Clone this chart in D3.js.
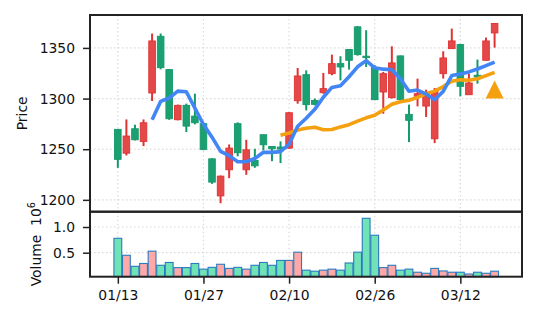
<!DOCTYPE html>
<html>
<head>
<meta charset="utf-8">
<script src="https://cdn.jsdelivr.net/npm/d3@7"></script>
<style>
body { margin: 0; background: #fff; }
svg { display: block; font-family: "DejaVu Sans", sans-serif; }
</style>
</head>
<body>
<div id="chart"></div>
<script>
// ---------- Data ----------
const opens = [1269.6, 1246.1, 1270.2, 1257.7, 1305.5, 1361.5, 1328.6, 1279.1, 1293.3, 1282.7,
    1275.2, 1240.5, 1203.9, 1229.7, 1275.2, 1229.7, 1238.9, 1264.3, 1252.7, 1252.1,
    1251.1, 1297.9, 1323.6, 1298.2, 1305.8, 1324.6, 1334.5, 1348.4, 1370.8, 1341.8,
    1330.5, 1306.5, 1300.9, 1342.1, 1284.4, 1302.2, 1292.6, 1260.3, 1324.6, 1349.3,
    1353.3, 1303.8, 1323.0, 1337.8, 1364.8];
const highs = [1270.0, 1279.4, 1274.2, 1279.4, 1364.2, 1364.2, 1329.0, 1294.0, 1295.0, 1304.8,
    1276.0, 1241.0, 1224.0, 1254.7, 1276.5, 1259.3, 1250.4, 1264.5, 1253.0, 1257.7,
    1286.5, 1330.2, 1327.9, 1300.0, 1325.3, 1343.4, 1341.8, 1349.0, 1371.5, 1367.5,
    1333.0, 1326.3, 1351.6, 1342.5, 1294.0, 1319.7, 1308.8, 1310.4, 1346.7, 1369.1,
    1354.0, 1324.6, 1338.5, 1360.2, 1374.5];
const lows = [1231.6, 1243.8, 1258.7, 1253.1, 1297.6, 1328.9, 1279.0, 1278.5, 1266.9, 1274.5,
    1249.0, 1215.8, 1196.7, 1221.4, 1243.0, 1224.7, 1231.6, 1248.8, 1238.2, 1236.3,
    1250.4, 1294.9, 1288.3, 1293.3, 1304.8, 1323.0, 1318.0, 1328.6, 1342.4, 1331.2,
    1298.5, 1285.0, 1300.0, 1298.5, 1257.0, 1292.3, 1281.8, 1256.0, 1319.7, 1349.0,
    1302.2, 1303.5, 1314.7, 1337.5, 1350.3];
const closes = [1240.0, 1263.0, 1259.3, 1276.1, 1356.9, 1330.5, 1280.1, 1293.3, 1272.8, 1276.1,
    1249.8, 1217.5, 1223.4, 1251.1, 1246.5, 1249.4, 1233.6, 1254.4, 1250.4, 1250.1,
    1286.0, 1322.3, 1294.0, 1294.3, 1309.8, 1334.5, 1331.2, 1337.8, 1343.4, 1340.4,
    1298.9, 1324.6, 1335.2, 1298.9, 1278.5, 1304.8, 1304.8, 1307.1, 1340.1, 1356.9,
    1312.1, 1315.4, 1321.3, 1356.9, 1374.1];
// volume in units of 10^6
const volumes = [0.78, 0.45, 0.235, 0.29, 0.53, 0.255, 0.31, 0.21, 0.21, 0.29,
    0.18, 0.215, 0.275, 0.195, 0.215, 0.18, 0.255, 0.31, 0.255, 0.35,
    0.35, 0.51, 0.16, 0.14, 0.16, 0.18, 0.16, 0.30, 0.51, 1.17,
    0.84, 0.21, 0.255, 0.16, 0.18, 0.12, 0.10, 0.195, 0.145, 0.12,
    0.12, 0.085, 0.12, 0.10, 0.14];
const dateTickIndex = [0, 10, 20, 30, 40];
const dateTickLabels = ["01/13", "01/27", "02/10", "02/26", "03/12"];
const priceTicks = [1200, 1250, 1300, 1350];
const volumeTicks = [0.5, 1.0];
const signalIndex = [44];
const signalPrice = [1309];

// ---------- Layout ----------
const width = 537, height = 322;
const plotLeft = 90, plotRight = 522, plotTop = 15, plotMid = 211.7, plotBottom = 276.7;
const upColor = "#e03333", downColor = "#14996b";

const candles = opens.map((o, i) => ({
    i, open: o, high: highs[i], low: lows[i], close: closes[i], volume: volumes[i]
}));

const svg = d3.select("#chart").append("svg").attr("width", width).attr("height", height);
svg.append("rect").attr("width", width).attr("height", height).attr("fill", "#fff");

const x = d3.scaleLinear().domain([-3.25, 47.2]).range([plotLeft, plotRight]);
const yPrice = d3.scaleLinear().domain([1188.3, 1382.5]).range([plotMid, plotTop]);
const yVol = d3.scaleLinear().domain([0.033, 1.298]).range([plotBottom, plotMid]);

drawGrid(yPrice, priceTicks, plotTop, plotMid);
drawGrid(yVol, volumeTicks, plotMid, plotBottom);

// volume bars
svg.append("g").selectAll("rect").data(candles).join("rect")
    .attr("x", d => x(d.i) - 3.9).attr("width", 7.8)
    .attr("y", d => yVol(d.volume)).attr("height", d => plotBottom - yVol(d.volume))
    .attr("fill", d => d.close >= d.open ? "#ffa8a8" : "#6fe2b6")
    .attr("stroke", "#2a7bc0").attr("stroke-width", 1.1);

// candles
const cg = svg.append("g");
cg.selectAll("line").data(candles).join("line")
    .attr("x1", d => x(d.i)).attr("x2", d => x(d.i))
    .attr("y1", d => yPrice(d.high)).attr("y2", d => yPrice(d.low))
    .attr("stroke", d => d.close >= d.open ? upColor : downColor).attr("stroke-width", 2);
cg.selectAll("rect").data(candles).join("rect")
    .attr("x", d => x(d.i) - 3.3).attr("width", 6.6)
    .attr("y", d => yPrice(Math.max(d.open, d.close)))
    .attr("height", d => Math.max(1.2, Math.abs(yPrice(d.open) - yPrice(d.close))))
    .attr("fill", d => d.close >= d.open ? "#e44848" : "#1ba072")
    .attr("stroke", d => d.close >= d.open ? upColor : downColor).attr("stroke-width", 0.9);

// moving averages
const line = d3.line().x(d => x(d.i)).y(d => yPrice(d.v));
svg.append("path").datum(movingAverage(closes, 20)).attr("d", line)
    .attr("fill", "none").attr("stroke", "#f5a00f").attr("stroke-width", 3.6).attr("stroke-linejoin", "round");
svg.append("path").datum(movingAverage(closes, 5)).attr("d", line)
    .attr("fill", "none").attr("stroke", "#4285f4").attr("stroke-width", 3.6).attr("stroke-linejoin", "round");

// signal marker
svg.append("g").selectAll("path").data(signalIndex).join("path")
    .attr("d", (d, k) => {
        const cx = x(d), cy = yPrice(signalPrice[k]);
        return `M${cx},${cy - 9}L${cx + 9},${cy + 9}L${cx - 9},${cy + 9}Z`;
    })
    .attr("fill", "#f5a00f");

// axes
const yAxisP = svg.append("g").attr("transform", `translate(${plotLeft},0)`)
    .call(d3.axisLeft(yPrice).tickValues(priceTicks).tickSize(7).tickPadding(8).tickFormat(d3.format("d")));
const yAxisV = svg.append("g").attr("transform", `translate(${plotLeft},0)`)
    .call(d3.axisLeft(yVol).tickValues(volumeTicks).tickSize(7).tickPadding(8).tickFormat(d3.format(".1f")));
const xAxis = svg.append("g").attr("transform", `translate(0,${plotBottom})`)
    .call(d3.axisBottom(x).tickValues(dateTickIndex).tickSize(7).tickPadding(6).tickFormat((d, k) => dateTickLabels[k]));
[yAxisP, yAxisV, xAxis].forEach(a => {
    a.select(".domain").remove();
    a.selectAll(".tick line").attr("stroke", "#222").attr("stroke-width", 1.5);
    a.selectAll(".tick text").attr("fill", "#111").style("font-size", "13.9px").style("font-family", "DejaVu Sans");
});

// frames
[[plotTop, plotMid], [plotMid, plotBottom]].forEach(([a, b]) => {
    svg.append("rect").attr("x", plotLeft).attr("y", a).attr("width", plotRight - plotLeft).attr("height", b - a)
        .attr("fill", "none").attr("stroke", "#222").attr("stroke-width", 2);
});

// labels
svg.append("text").attr("transform", `translate(27,${(plotTop + plotMid) / 2}) rotate(-90)`)
    .attr("text-anchor", "middle").style("font-size", "13.9px").attr("fill", "#111").text("Price");
const vl = svg.append("text").attr("transform", `translate(41,${(plotMid + plotBottom) / 2}) rotate(-90)`)
    .attr("text-anchor", "middle").style("font-size", "13.9px").attr("fill", "#111")
    .attr("xml:space", "preserve");
vl.append("tspan").text("Volume  10");
vl.append("tspan").attr("dy", -6).style("font-size", "9.7px").text("6");

// ---------- Helper Functions ----------
function movingAverage(values, n) {
    const out = [];
    for (let i = n - 1; i < values.length; i++) {
        out.push({ i, v: d3.mean(values.slice(i - n + 1, i + 1)) });
    }
    return out;
}
function drawGrid(y, ticks, y0, y1) {
    const g = svg.append("g").attr("stroke", "#d9d9d9").attr("stroke-width", 1.2).attr("stroke-dasharray", "1.5,2.5");
    g.selectAll(".h").data(ticks).join("line").attr("class", "h")
        .attr("x1", plotLeft).attr("x2", plotRight).attr("y1", d => y(d)).attr("y2", d => y(d));
    g.selectAll(".v").data(dateTickIndex).join("line").attr("class", "v")
        .attr("x1", d => x(d)).attr("x2", d => x(d)).attr("y1", y0).attr("y2", y1);
}
</script>
</body>
</html>
